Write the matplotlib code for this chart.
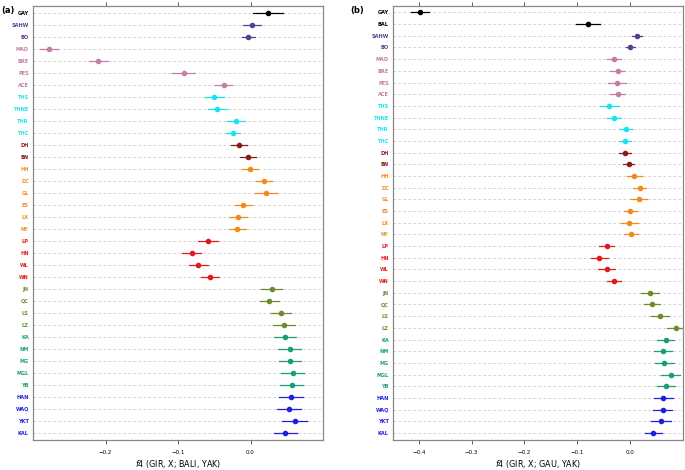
import matplotlib.pyplot as plt
import numpy as np

# population labels, top to bottom
pops_a = ["GAY", "SAHW", "BO", "MAD", "BRE", "PES", "ACE", "THS", "THNE", "THR", "THC",
          "DH", "BN", "HH", "DC", "GL", "ES", "LX", "NY", "LP", "HN", "WL", "WN",
          "JN", "QC", "LS", "LZ", "KA", "NM", "MG", "MGL", "YB", "HAN", "WAQ", "YKT", "KAL"]
pops_b = ["GAY", "BAL"] + pops_a[1:]

f4_a = [0.024, 0.002, -0.003, -0.278, -0.210, -0.092, -0.037, -0.050, -0.046, -0.020, -0.024,
        -0.016, -0.004, -0.001, 0.018, 0.021, -0.010, -0.017, -0.018, -0.059, -0.081, -0.072, -0.056,
        0.029, 0.026, 0.042, 0.046, 0.048, 0.054, 0.054, 0.058, 0.057, 0.056, 0.053, 0.061, 0.048]
err_a = [0.021, 0.012, 0.009, 0.013, 0.013, 0.016, 0.012, 0.013, 0.013, 0.012, 0.010,
         0.011, 0.011, 0.011, 0.011, 0.015, 0.012, 0.012, 0.012, 0.014, 0.013, 0.013, 0.012,
         0.015, 0.013, 0.014, 0.015, 0.015, 0.016, 0.015, 0.016, 0.016, 0.017, 0.017, 0.017, 0.016]

f4_b = [-0.398, -0.079, 0.014, 0.001, -0.030, -0.023, -0.024, -0.023, -0.039, -0.030, -0.008, -0.009,
        -0.009, -0.002, 0.009, 0.019, 0.017, 0.001, -0.001, 0.003, -0.044, -0.058, -0.044, -0.030,
        0.038, 0.042, 0.058, 0.087, 0.068, 0.063, 0.065, 0.078, 0.068, 0.064, 0.063, 0.060, 0.045]
err_b = [0.017, 0.023, 0.009, 0.009, 0.014, 0.014, 0.017, 0.014, 0.018, 0.013, 0.013, 0.011,
         0.011, 0.011, 0.014, 0.012, 0.015, 0.012, 0.016, 0.013, 0.015, 0.016, 0.016, 0.014,
         0.017, 0.015, 0.017, 0.016, 0.016, 0.017, 0.018, 0.018, 0.017, 0.018, 0.018, 0.019, 0.017]

group_colors = {
    "GAY": "#000000", "BAL": "#000000",
    "SAHW": "#5b3f95", "BO": "#5b3f95",
    "MAD": "#c47fa8", "BRE": "#c47fa8", "PES": "#c47fa8", "ACE": "#c47fa8",
    "THS": "#19e3ee", "THNE": "#19e3ee", "THR": "#19e3ee", "THC": "#19e3ee",
    "DH": "#8b1a1a", "BN": "#8b1a1a",
    "HH": "#f08c1e", "DC": "#f08c1e", "GL": "#f08c1e", "ES": "#f08c1e", "LX": "#f08c1e", "NY": "#f08c1e",
    "LP": "#e31a1c", "HN": "#e31a1c", "WL": "#e31a1c", "WN": "#e31a1c",
    "JN": "#6e8b2e", "QC": "#6e8b2e", "LS": "#6e8b2e", "LZ": "#6e8b2e",
    "KA": "#1a9e77", "NM": "#1a9e77", "MG": "#1a9e77", "MGL": "#1a9e77", "YB": "#1a9e77",
    "HAN": "#1f1fe0", "WAQ": "#1f1fe0", "YKT": "#1f1fe0", "KAL": "#1f1fe0",
}

fig = plt.figure(figsize=(6.85, 4.7), dpi=100)
ax_a = fig.add_axes([33 / 685, 30 / 470, 290 / 685, 434 / 470])
ax_b = fig.add_axes([393 / 685, 30 / 470, 290 / 685, 434 / 470])


def panel(ax, pops, vals, errs, xlim, ticks, xlabel):
    n = len(pops)
    y = np.arange(n)
    for yi in y:
        ax.axhline(yi, color="#c8c8c8", lw=0.6, ls=(0, (3, 3)), zorder=0)
    for yi, p, v, e in zip(y, pops, vals, errs):
        c = group_colors[p]
        ax.plot([v - e, v + e], [yi, yi], color=c, lw=0.9, zorder=2)
        ax.plot(v, yi, "o", color=c, ms=3, zorder=3)
    ax.set_ylim(n - 0.4, -0.55)
    ax.set_xlim(*xlim)
    ax.set_yticks(y)
    ax.set_yticklabels(pops, fontsize=3.6, fontweight="bold")
    for lab, p in zip(ax.get_yticklabels(), pops):
        lab.set_color(group_colors[p])
    ax.tick_params(axis="y", length=0, pad=3)
    ax.set_xticks(ticks)
    ax.set_xticklabels(["\u2212%.1f" % abs(t) if t < 0 else "0.0" for t in ticks], fontsize=4)
    ax.tick_params(axis="x", top=True, length=3, width=0.6, color="#444444", pad=4)
    for s in ax.spines.values():
        s.set_color("#888888")
        s.set_linewidth(0.9)
    ax.set_xlabel(xlabel, fontsize=5.8, labelpad=2)


panel(ax_a, pops_a, f4_a, err_a, (-0.30, 0.10), [-0.2, -0.1, 0.0],
      r"$\mathit{f4}$ (GIR, X; BALI, YAK)")
panel(ax_b, pops_b, f4_b, err_b, (-0.449, 0.101), [-0.4, -0.3, -0.2, -0.1, 0.0],
      r"$\mathit{f4}$ (GIR, X; GAU, YAK)")

fig.text(1 / 685, 1 - 6 / 470, "(a)", fontsize=6, fontweight="bold", ha="left", va="top")
fig.text(350 / 685, 1 - 6 / 470, "(b)", fontsize=6, fontweight="bold", ha="left", va="top")

fig.savefig("out.png", dpi=100)
